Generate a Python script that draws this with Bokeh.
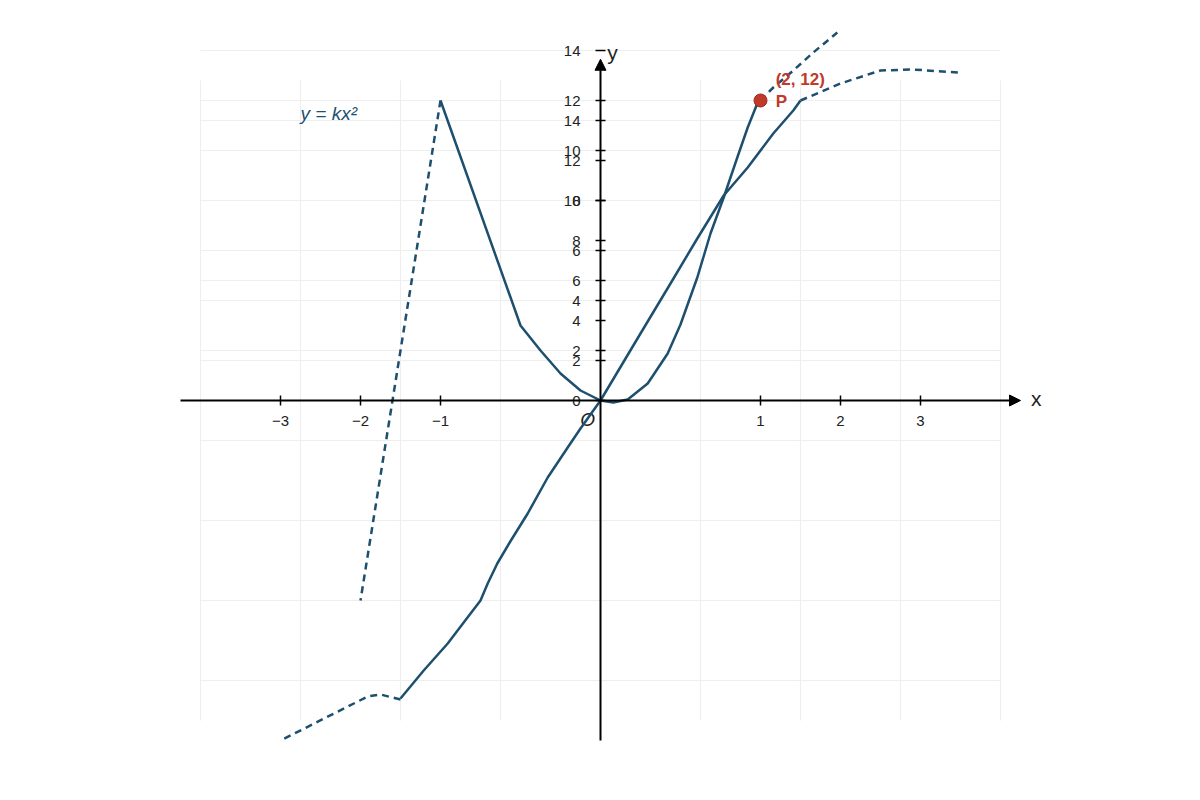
from bokeh.plotting import figure
from bokeh.models import Range1d, Arrow, NormalHead
from bokeh.embed import file_html
from bokeh.resources import INLINE
from bokeh.core.properties import value

# ---------------- data (primary units: x, y) ----------------
parab_x = [-2, -1, -0.75, -0.5, -0.25, 0, 0.16, 0.34, 0.59, 0.84, 1, 1.21, 1.375, 1.54, 1.71, 1.84, 1.96, 2]
parab_y = [12, 3, 2.0, 1.08, 0.4, 0, -0.08, 0.04, 0.68, 1.88, 3.04, 4.92, 6.68, 8.12, 9.72, 10.92, 11.88, 12]
parab_dash_left_x = [-2, -3]
parab_dash_left_y = [12, -8]
parab_dash_right_x = [2, 2.16, 2.41, 2.66, 2.96]
parab_dash_right_y = [12, 12.52, 13.2, 13.92, 14.72]

s_x = [-2.5, -2.21, -1.91, -1.71, -1.5, -1.41, -1.29, -1.12, -0.91, -0.66, -0.41, -0.25,
       0, 0.5, 0.875, 1.21, 1.54, 1.84, 2.16, 2.41, 2.5]
s_y = [-11.92, -10.8, -9.72, -8.88, -8, -7.32, -6.52, -5.6, -4.52, -3.08, -1.88, -1.12,
       0, 2.68, 4.68, 6.48, 8.2, 9.32, 10.68, 11.6, 12]
s_dash_right_x = [2.5, 3.0, 3.5, 3.9, 4.47]
s_dash_right_y = [12, 12.68, 13.2, 13.24, 13.12]
s_dash_left_x = [-2.5, -2.75, -2.91, -4]
s_dash_left_y = [-11.96, -11.76, -11.84, -13.6]

point_x = [2]
point_y = [12]

x_tick_pos = [-4, -3, -2, 2, 3, 4]
x_tick_labels = ["\u22123", "\u22122", "\u22121", "1", "2", "3"]
y_ticks_a = [0, 2, 4, 6, 8, 10, 12, 14]          # 25 px per unit
y_ticks_b = [2, 4, 6, 8, 10, 12, 14]             # 20 px per unit
grid_a_y = [2, 4, 6, 8, 10, 12, 14]
grid_b_y = [-14, -10, -6, -2, 2, 6, 10, 14]
grid_v_x = [-4, -3, -2, -1, 1, 2, 3, 4]          # 100 px per unit

CURVE = "#1d4f6e"
RED = "#c0392b"
GRID = "#eeeeee"
FONT = "Liberation Sans"

W, H = 1184, 784
p = figure(width=W, height=H, output_backend="svg", toolbar_location=None,
           x_range=Range1d(-7.5, 7.3), y_range=Range1d(-15.36, 16.0),
           min_border=0, x_axis_type=None, y_axis_type=None)
p.extra_x_ranges = {"g": Range1d(-6.0, 5.84)}
p.extra_y_ranges = {"b": Range1d(-19.2, 20.0)}
p.outline_line_color = None
p.grid.visible = False
p.background_fill_color = "white"
p.border_fill_color = "white"

# grid lines
p.segment(x0=[-5] * len(grid_a_y), x1=[5] * len(grid_a_y), y0=grid_a_y, y1=grid_a_y,
          line_color=GRID, line_width=1.2)
p.segment(x0=[-4] * len(grid_b_y), x1=[4] * len(grid_b_y), y0=grid_b_y, y1=grid_b_y,
          line_color=GRID, line_width=1.2, x_range_name="g", y_range_name="b")
p.segment(x0=grid_v_x, x1=grid_v_x, y0=[-16] * len(grid_v_x), y1=[16] * len(grid_v_x),
          line_color=GRID, line_width=1.2, x_range_name="g", y_range_name="b")

# axes
p.add_layout(Arrow(end=NormalHead(size=11, fill_color="black", line_color="black"),
                   x_start=-5.25, y_start=0, x_end=5.25, y_end=0,
                   line_color="black", line_width=2))
p.add_layout(Arrow(end=NormalHead(size=11, fill_color="black", line_color="black"),
                   x_start=0, y_start=-13.6, x_end=0, y_end=13.65,
                   line_color="black", line_width=2))

# x ticks
p.segment(x0=x_tick_pos, x1=x_tick_pos, y0=[0.2] * 6, y1=[-0.2] * 6,
          line_color="black", line_width=1.5)
p.text(x=x_tick_pos, y=[-0.8] * 6, text=x_tick_labels, text_align="center",
       text_baseline="middle", text_font=value(FONT), text_font_size="15px",
       text_color="#222222")

# y ticks set A
p.segment(x0=[-0.0625] * 8, x1=[0.0625] * 8, y0=y_ticks_a, y1=y_ticks_a,
          line_color="black", line_width=1.5)
p.text(x=[-0.25] * 8, y=y_ticks_a, text=[str(v) for v in y_ticks_a],
       text_align="right", text_baseline="middle", text_font=value(FONT),
       text_font_size="15px", text_color="#222222")
# y ticks set B
p.segment(x0=[-0.0625] * 7, x1=[0.0625] * 7, y0=y_ticks_b, y1=y_ticks_b,
          line_color="black", line_width=1.5, y_range_name="b")
p.text(x=[-0.25] * 7, y=y_ticks_b, text=[str(v) for v in y_ticks_b],
       text_align="right", text_baseline="middle", text_font=value(FONT),
       text_font_size="15px", text_color="#222222", y_range_name="b")

# axis labels
p.text(x=[5.38], y=[0.08], text=["x"], text_align="left", text_baseline="middle",
       text_font=value(FONT), text_font_size="21px", text_color="#222222")
p.text(x=[0.085], y=[13.92], text=["y"], text_align="left", text_baseline="middle",
       text_font=value(FONT), text_font_size="21px", text_color="#222222")
p.text(x=[-0.16], y=[-0.74], text=["O"], text_align="center", text_baseline="middle",
       text_font=value(FONT), text_font_style="italic", text_font_size="19px",
       text_color="#222222")

# curves
p.line(parab_x, parab_y, line_color=CURVE, line_width=2.5, line_join="round")
p.line(parab_dash_left_x, parab_dash_left_y, line_color=CURVE, line_width=2.5,
       line_dash="7 5")
p.line(parab_dash_right_x, parab_dash_right_y, line_color=CURVE, line_width=2.5,
       line_dash="7 5")
p.line(s_x, s_y, line_color=CURVE, line_width=2.5, line_join="round")
p.line(s_dash_right_x, s_dash_right_y, line_color=CURVE, line_width=2.5,
       line_dash="7 5")
p.line(s_dash_left_x, s_dash_left_y, line_color=CURVE, line_width=2.5,
       line_dash="7 5")

# point P
p.scatter(point_x, point_y, size=13, fill_color=RED, line_color="#9e2a1e",
          line_width=1)
p.text(x=[2.19], y=[12.84], text=["(2, 12)"], text_align="left",
       text_baseline="middle", text_font=value(FONT), text_font_style="bold",
       text_font_size="17px", text_color=RED)
p.text(x=[2.19], y=[11.96], text=["P"], text_align="left",
       text_baseline="middle", text_font=value(FONT), text_font_style="bold",
       text_font_size="17px", text_color=RED)

# equation label
p.text(x=[-3.75], y=[11.48], text=["y = kx\u00b2"], text_align="left",
       text_baseline="middle", text_font=value(FONT), text_font_style="italic",
       text_font_size="19px", text_color=CURVE)

open("out.html", "w").write(file_html(p, INLINE))
